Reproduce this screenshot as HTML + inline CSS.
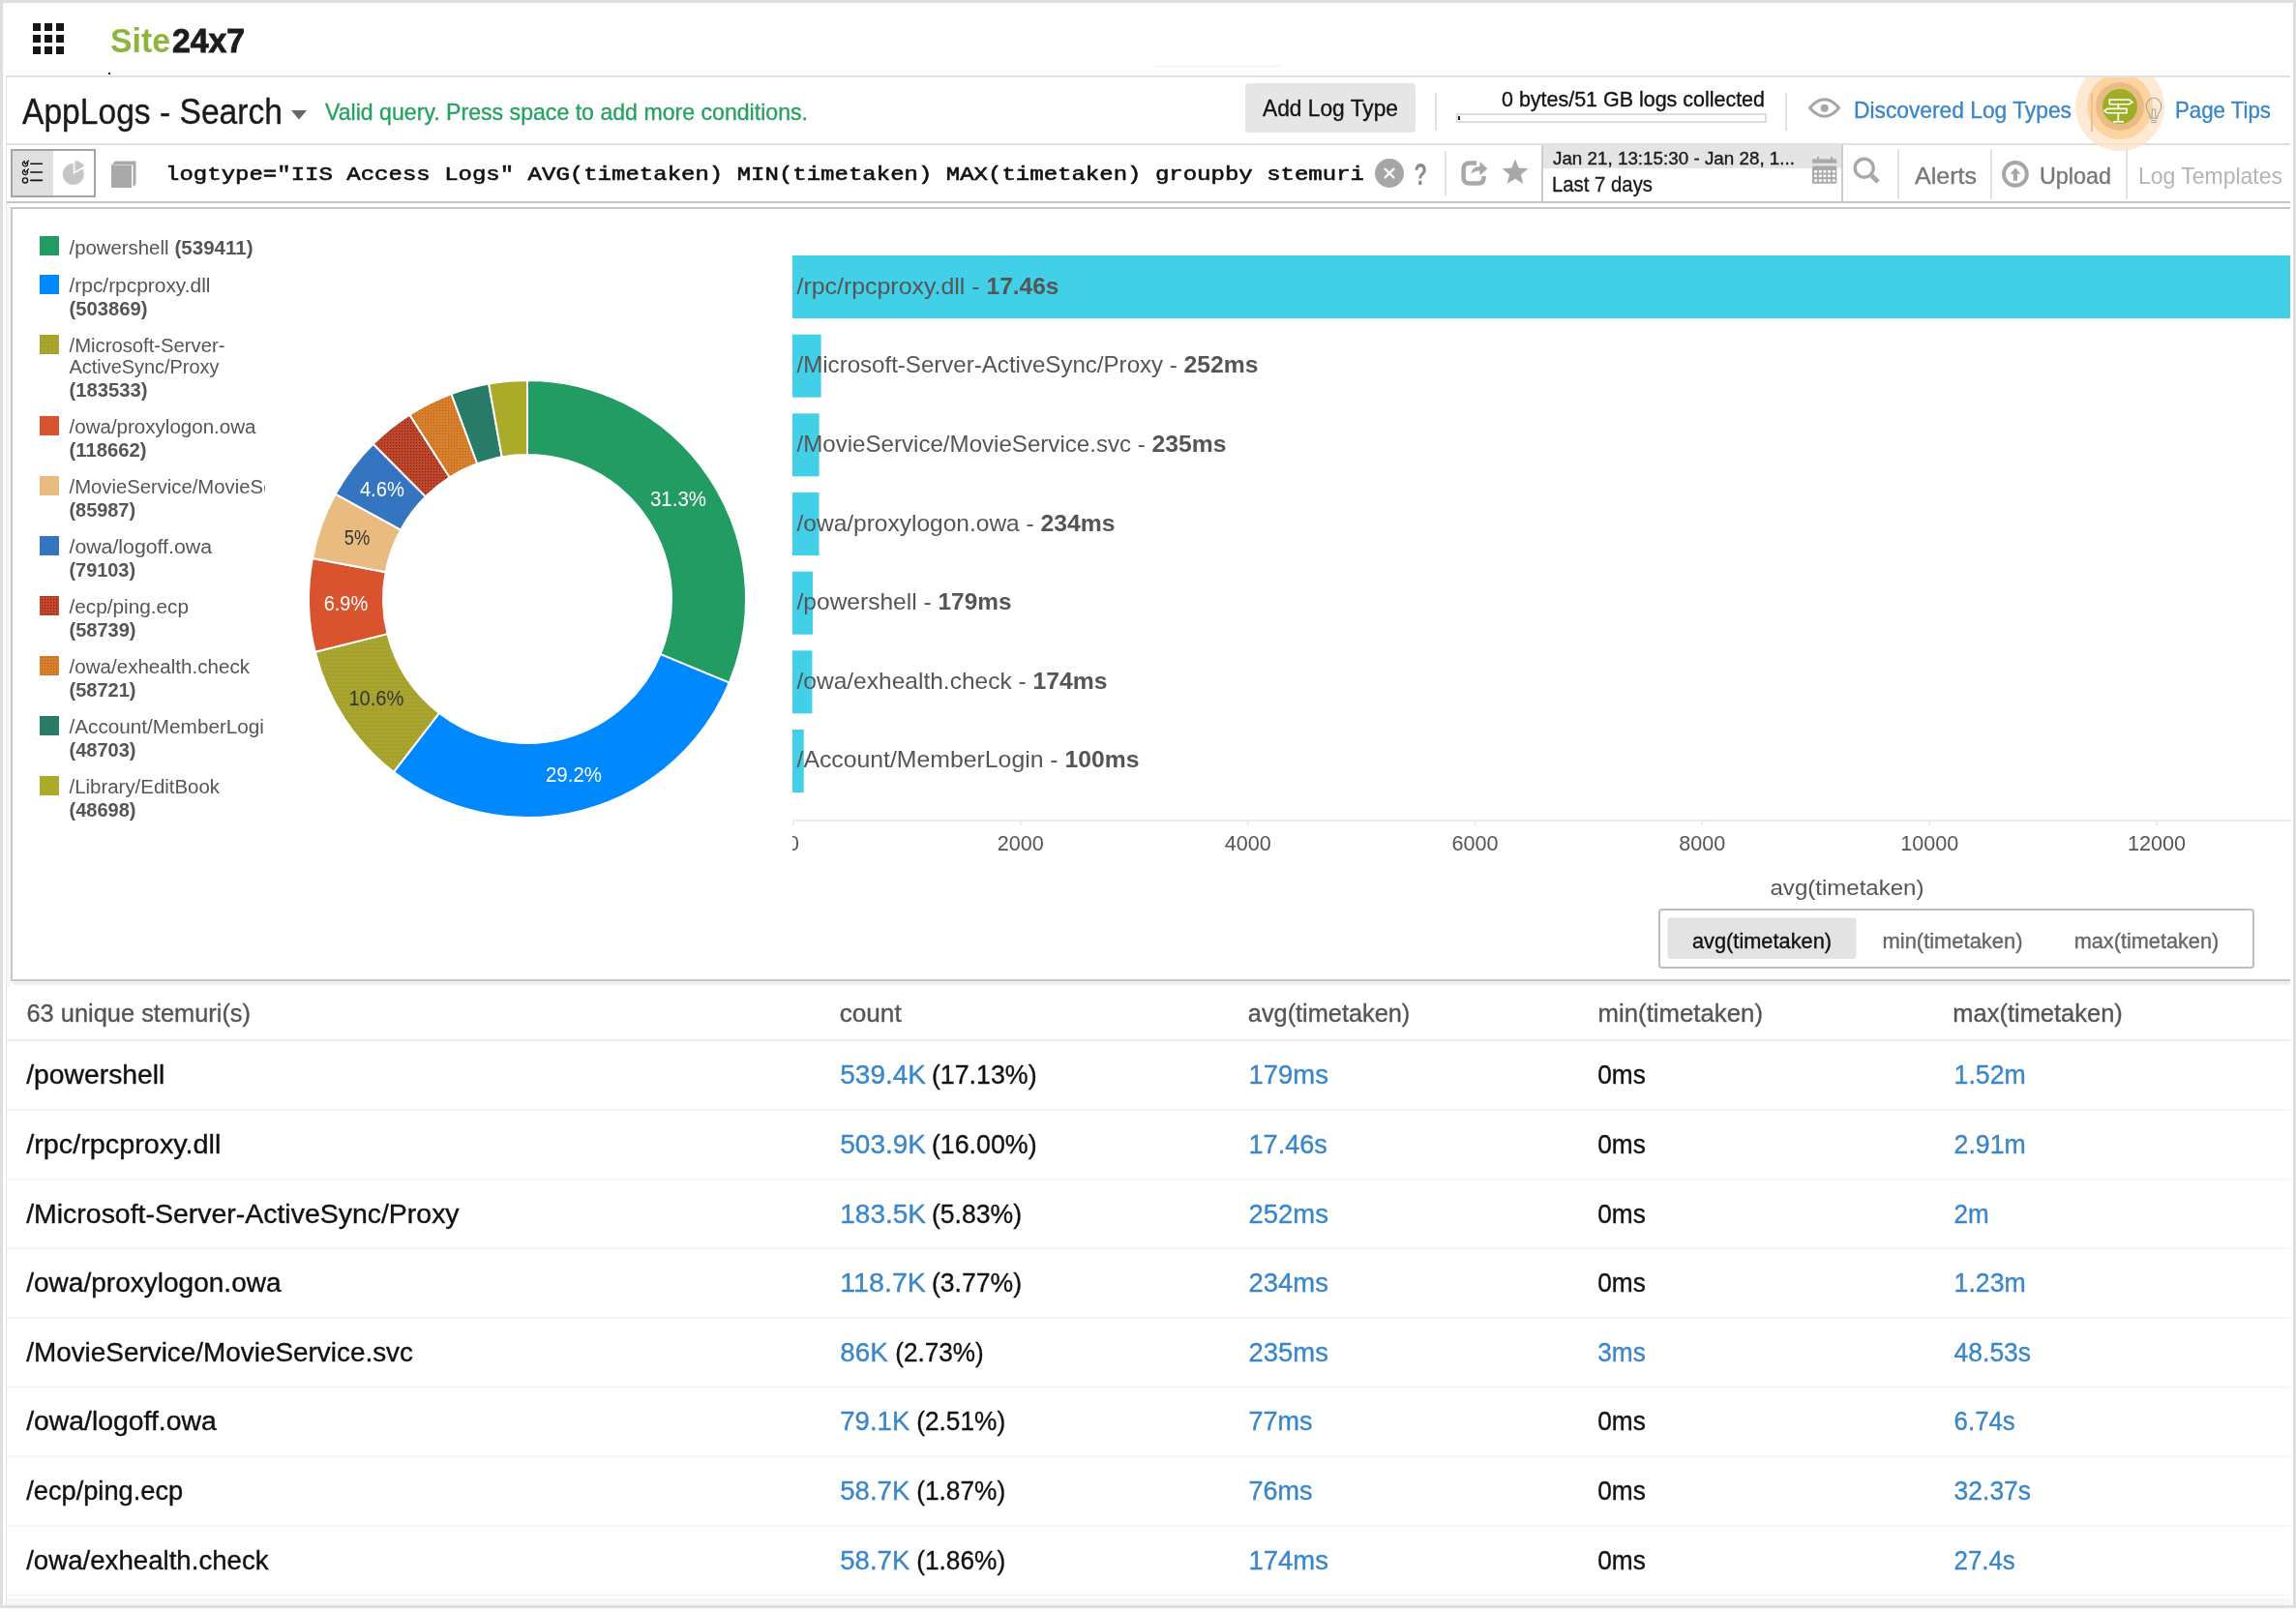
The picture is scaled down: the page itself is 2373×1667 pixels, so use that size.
<!DOCTYPE html>
<html lang="en">
<head>
<meta charset="utf-8">
<title>AppLogs - Search | Site24x7</title>
<style>
html,body{margin:0;padding:0;background:#fff;}
body{width:2373px;height:1667px;overflow:hidden;position:relative;}
svg{position:absolute;left:0;top:0;display:block;font-family:'Liberation Sans', Arial, sans-serif;white-space:pre;will-change:transform;}
</style>
</head>
<body>
<svg width="2373" height="1667" viewBox="0 0 2373 1667">
<rect x="0" y="0" width="2373" height="1667" fill="#ffffff" />
<rect x="0" y="0" width="2373" height="3" fill="#dfdfdf" />
<rect x="0" y="0" width="3" height="1662" fill="#dfdfdf" />
<rect x="2370" y="0" width="3" height="1662" fill="#dfdfdf" />
<rect x="0" y="1659" width="2373" height="3" fill="#dfdfdf" />
<rect x="3" y="1662" width="2370" height="5" fill="#fefefe" />
<rect x="34" y="24" width="8" height="8" fill="#161616" />
<rect x="34" y="36" width="8" height="8" fill="#161616" />
<rect x="34" y="48" width="8" height="8" fill="#161616" />
<rect x="46" y="24" width="8" height="8" fill="#161616" />
<rect x="46" y="36" width="8" height="8" fill="#161616" />
<rect x="46" y="48" width="8" height="8" fill="#161616" />
<rect x="58" y="24" width="8" height="8" fill="#161616" />
<rect x="58" y="36" width="8" height="8" fill="#161616" />
<rect x="58" y="48" width="8" height="8" fill="#161616" />
<text x="114" y="54" font-size="35" fill="#8db43b" font-weight="bold" textLength="62" lengthAdjust="spacingAndGlyphs">Site</text>
<text x="178" y="54" font-size="35" fill="#1c1c1c" font-weight="bold" textLength="75" lengthAdjust="spacingAndGlyphs" stroke="#1c1c1c" stroke-width="0.9">24x7</text>
<rect x="112" y="75" width="2" height="2" fill="#222" />
<line x1="1194" y1="68.5" x2="1323" y2="68.5" stroke="#f0f0f0" stroke-width="1" />
<rect x="6" y="78" width="2361" height="2" fill="#e0e0e0" />
<rect x="6" y="80" width="1" height="1579" fill="#e6e6e6" />
<text x="23" y="128" font-size="36" fill="#1a1a1a" textLength="269" lengthAdjust="spacingAndGlyphs" stroke="#1a1a1a" stroke-width="0.35">AppLogs - Search</text>
<polygon points="301,114 317,114 309,123.5" fill="#666"/>
<text x="336" y="123.7" font-size="24" fill="#26a25f" textLength="499" lengthAdjust="spacingAndGlyphs" stroke="#26a25f" stroke-width="0.35">Valid query. Press space to add more conditions.</text>
<rect x="1287" y="86" width="176" height="51" fill="#e6e6e6" rx="4" />
<text x="1305" y="120" font-size="24" fill="#141414" textLength="140" lengthAdjust="spacingAndGlyphs" stroke="#141414" stroke-width="0.35">Add Log Type</text>
<rect x="1483" y="96" width="2" height="39" fill="#e2e2e2" />
<text x="1552" y="110.4" font-size="22" fill="#141414" textLength="272" lengthAdjust="spacingAndGlyphs" stroke="#141414" stroke-width="0.35">0 bytes/51 GB logs collected</text>
<rect x="1506" y="118" width="319" height="8" fill="#ffffff" stroke="#dcdcdc" stroke-width="2"/>
<rect x="1507" y="120" width="2" height="4" fill="#222" />
<rect x="1845" y="96" width="2" height="39" fill="#e2e2e2" />
<path d="M1870.5,111.5 Q1885.6,94 1900.7,111.5 Q1885.6,129 1870.5,111.5 Z" fill="none" stroke="#a6a6a6" stroke-width="3" stroke-linejoin="round"/>
<circle cx="1885.7" cy="111.7" r="4" fill="#a6a6a6"/>
<text x="1916" y="121.5" font-size="24" fill="#3a86c8" textLength="225" lengthAdjust="spacingAndGlyphs" stroke="#3a86c8" stroke-width="0.35">Discovered Log Types</text>
<text x="2248" y="121.5" font-size="24" fill="#3a86c8" textLength="99" lengthAdjust="spacingAndGlyphs" stroke="#3a86c8" stroke-width="0.35">Page Tips</text>
<rect x="6" y="148" width="2361" height="2" fill="#e0e0e0" />
<rect x="7" y="208" width="2360" height="2" fill="#c6c6c6" />
<rect x="12" y="155" width="86" height="48" fill="#ffffff" stroke="#a4a4a4" stroke-width="2"/>
<rect x="13" y="156" width="42" height="46" fill="#e0e0e0" />
<path d="M28.25,168.0 A2.6,2.6 0 1,1 26,166.70000000000002" fill="none" stroke="#111" stroke-width="1.3"/>
<path d="M24.9,167.70000000000002 L26.3,169.4 L29.8,165.70000000000002" fill="none" stroke="#111" stroke-width="1.3"/>
<line x1="31.8" y1="169.3" x2="43.4" y2="169.3" stroke="#111" stroke-width="1.6" stroke-linecap="round"/>
<path d="M28.25,176.7 A2.6,2.6 0 1,1 26,175.4" fill="none" stroke="#111" stroke-width="1.3"/>
<path d="M24.9,176.4 L26.3,178.1 L29.8,174.4" fill="none" stroke="#111" stroke-width="1.3"/>
<line x1="31.8" y1="178" x2="43.4" y2="178" stroke="#111" stroke-width="1.6" stroke-linecap="round"/>
<circle cx="26" cy="186.4" r="2.6" fill="none" stroke="#111" stroke-width="1.3"/>
<line x1="31.8" y1="186.4" x2="43.4" y2="186.4" stroke="#111" stroke-width="1.6" stroke-linecap="round"/>
<path d="M75.8,180 L75.8,169 A11,11 0 1,0 85.3,174.5 Z" fill="#c6c6c6"/>
<path d="M77.4,177.3 L77.4,166.3 A11,11 0 0,1 86.9,171.8 Z" fill="#c6c6c6"/>
<path d="M115,171 L119,166.5 L140.5,166.5 L140.5,190.5 L137.5,193 L137.5,170.5 L119,170.5 Z" fill="#a9a9a9"/>
<rect x="115" y="171" width="21" height="23" fill="#a9a9a9" />
<text x="171" y="185.7" font-size="21" fill="#111" font-family="'Liberation Mono', 'Courier New', monospace" textLength="1239" lengthAdjust="spacingAndGlyphs" stroke="#111" stroke-width="0.6">logtype="IIS Access Logs" AVG(timetaken) MIN(timetaken) MAX(timetaken) groupby stemuri</text>
<circle cx="1436" cy="179" r="15" fill="#a6a6a6"/>
<path d="M1431,174 L1441,184 M1441,174 L1431,184" stroke="#fff" stroke-width="2.4"/>
<text x="1461.5" y="190.7" font-size="31" fill="#8a8a8a" font-weight="bold" textLength="13.5" lengthAdjust="spacingAndGlyphs">?</text>
<rect x="1493" y="156" width="2" height="46" fill="#e2e2e2" />
<path d="M1526,168.6 L1519,168.6 Q1512.6,168.6 1512.6,175 L1512.6,183.5 Q1512.6,189.6 1519,189.6 L1527.5,189.6 Q1533.6,189.6 1533.6,183 L1533.6,182" fill="none" stroke="#a8a8a8" stroke-width="4.5"/>
<path d="M1520.3,179.8 Q1522,172 1529.5,172 L1529.5,167 L1537.3,174.2 L1529.5,181.2 L1529.5,176.6 Q1523.5,176.6 1520.3,179.8 Z" fill="#a8a8a8"/>
<polygon points="1566.00,164.40 1569.64,173.58 1579.51,174.21 1571.90,180.52 1574.35,190.09 1566.00,184.80 1557.65,190.09 1560.10,180.52 1552.49,174.21 1562.36,173.58" fill="#a8a8a8"/>
<rect x="1593" y="150" width="2" height="58" fill="#cccccc" />
<rect x="1595" y="150" width="308" height="24" fill="#e4e4e4" />
<text x="1605" y="169.6" font-size="19" fill="#1a1a1a" textLength="250" lengthAdjust="spacingAndGlyphs" stroke="#1a1a1a" stroke-width="0.35">Jan 21, 13:15:30 - Jan 28, 1...</text>
<text x="1604" y="197.5" font-size="22" fill="#1a1a1a" textLength="104" lengthAdjust="spacingAndGlyphs" stroke="#1a1a1a" stroke-width="0.35">Last 7 days</text>
<rect x="1903" y="150" width="2" height="58" fill="#cccccc" />
<rect x="1873" y="164.4" width="25.3" height="4.3" fill="#a9a9a9" />
<rect x="1878" y="162" width="2" height="3" fill="#a9a9a9" />
<rect x="1892" y="162" width="2" height="3" fill="#a9a9a9" />
<rect x="1873" y="171.5" width="25.3" height="18.2" fill="#a9a9a9" rx="1.5" />
<rect x="1875" y="176" width="3" height="2.6" fill="#ffffff" />
<rect x="1875" y="180.5" width="3" height="2.6" fill="#ffffff" />
<rect x="1875" y="185.2" width="3" height="2.6" fill="#ffffff" />
<rect x="1879.8" y="176" width="3" height="2.6" fill="#ffffff" />
<rect x="1879.8" y="180.5" width="3" height="2.6" fill="#ffffff" />
<rect x="1879.8" y="185.2" width="3" height="2.6" fill="#ffffff" />
<rect x="1884.4" y="176" width="3" height="2.6" fill="#ffffff" />
<rect x="1884.4" y="180.5" width="3" height="2.6" fill="#ffffff" />
<rect x="1884.4" y="185.2" width="3" height="2.6" fill="#ffffff" />
<rect x="1889" y="176" width="3" height="2.6" fill="#ffffff" />
<rect x="1889" y="180.5" width="3" height="2.6" fill="#ffffff" />
<rect x="1889" y="185.2" width="3" height="2.6" fill="#ffffff" />
<rect x="1893.8" y="176" width="3" height="2.6" fill="#ffffff" />
<rect x="1893.8" y="180.5" width="3" height="2.6" fill="#ffffff" />
<rect x="1893.8" y="185.2" width="3" height="2.6" fill="#ffffff" />
<circle cx="1926.7" cy="173.7" r="9.5" fill="none" stroke="#a9a9a9" stroke-width="3.4"/>
<line x1="1934.5" y1="181.5" x2="1941" y2="188" stroke="#a9a9a9" stroke-width="5" />
<rect x="1961" y="154" width="2" height="52" fill="#e2e2e2" />
<text x="1979" y="189.5" font-size="24" fill="#777777" textLength="64" lengthAdjust="spacingAndGlyphs" stroke="#777777" stroke-width="0.35">Alerts</text>
<rect x="2057" y="154" width="2" height="52" fill="#e2e2e2" />
<circle cx="2082.9" cy="179.9" r="11.9" fill="none" stroke="#a6a6a6" stroke-width="3.9"/>
<path d="M2083,173.5 L2088.3,179.7 L2085,179.7 L2085,186.8 L2080.8,186.8 L2080.8,179.7 L2077.6,179.7 Z" fill="#a6a6a6"/>
<text x="2108" y="189.5" font-size="24" fill="#777777" textLength="74" lengthAdjust="spacingAndGlyphs" stroke="#777777" stroke-width="0.35">Upload</text>
<rect x="2197" y="154" width="2" height="52" fill="#e2e2e2" />
<text x="2210" y="189.5" font-size="24" fill="#b4b4b4" textLength="149" lengthAdjust="spacingAndGlyphs">Log Templates</text>
<defs><clipPath id="glowclip"><rect x="2100" y="80" width="200" height="120"/></clipPath></defs>
<g clip-path="url(#glowclip)"><circle cx="2191" cy="110" r="46" fill="#fde2c4" fill-opacity="0.75"/><circle cx="2191" cy="110" r="34" fill="#fdd3a0"/><circle cx="2191" cy="110" r="25" fill="#e8bc82"/><circle cx="2191" cy="110" r="18" fill="#9cae24"/></g>
<rect x="2161" y="96" width="2" height="40" fill="#e6c29c" />
<path d="M2180.3,103 L2200.5,103 L2204,105.4 L2200.5,107.8 L2180.3,107.8 Z" fill="none" stroke="#fff" stroke-width="1.6"/>
<path d="M2198,112.4 L2178,112.4 L2175,114.6 L2178,116.8 L2198,116.8 Z" fill="none" stroke="#fff" stroke-width="1.6"/>
<line x1="2189.3" y1="108.5" x2="2189.3" y2="111.6" stroke="#fff" stroke-width="1.8" />
<line x1="2189.3" y1="117.5" x2="2189.3" y2="125.5" stroke="#fff" stroke-width="1.8" />
<line x1="2184" y1="125.8" x2="2195" y2="125.8" stroke="#fff" stroke-width="1.6" />
<path d="M2223,126.5 L2229,126.5 M2223,124.5 L2229,124.5 M2222.5,122.3 Q2222,118 2219.5,114.5 Q2217.2,110.5 2219,106 Q2221.5,101.2 2226,101.2 Q2230.5,101.2 2233,106 Q2234.8,110.5 2232.5,114.5 Q2230,118 2229.5,122.3 Z M2224,122 L2224.5,113 L2227.5,113 L2228,122" fill="none" stroke="#8f949a" stroke-width="1.1" stroke-opacity="0.8"/>
<rect x="7" y="210" width="4" height="810" fill="#f6f8f8" />
<rect x="11" y="214" width="2356" height="2" fill="#c6c6c6" />
<rect x="11" y="214" width="2" height="800" fill="#c6c6c6" />
<rect x="11" y="1012" width="2356" height="2" fill="#c6c6c6" />
<rect x="13" y="1014" width="2354" height="4" fill="#efefef" />
<defs><pattern id="pdots" width="4" height="4" patternUnits="userSpaceOnUse"><rect width="4" height="4" fill="#a8a52b"/><rect x="1" y="1" width="1" height="1" fill="#7f8a5a"/></pattern><pattern id="phatch" width="3" height="3" patternUnits="userSpaceOnUse"><rect width="3" height="3" fill="#c9472b"/><rect x="1" y="1" width="1.2" height="1.2" fill="#6b2a1c"/></pattern><pattern id="phatch2" width="3" height="3" patternUnits="userSpaceOnUse"><rect width="3" height="3" fill="#d8812d"/><rect x="1" y="1" width="1" height="1" fill="#b05a28"/></pattern><clipPath id="legclip"><rect x="30" y="220" width="243.8" height="700"/></clipPath></defs>
<g clip-path="url(#legclip)">
<rect x="41" y="244" width="20" height="20" fill="#229c63" />
<text x="71.5" y="263" font-size="20" fill="#555555" textLength="103" lengthAdjust="spacingAndGlyphs">/powershell</text>
<text x="180.5" y="263" font-size="20" fill="#555555" font-weight="bold" textLength="81" lengthAdjust="spacingAndGlyphs">(539411)</text>
<rect x="41" y="284" width="20" height="20" fill="#0088ff" />
<text x="71.5" y="301.6" font-size="20" fill="#555555" textLength="146" lengthAdjust="spacingAndGlyphs">/rpc/rpcproxy.dll</text>
<text x="71.5" y="325.5" font-size="20" fill="#555555" font-weight="bold" textLength="81" lengthAdjust="spacingAndGlyphs">(503869)</text>
<rect x="41" y="346" width="20" height="20" fill="url(#pdots)" />
<text x="71.5" y="363.6" font-size="20" fill="#555555" textLength="161" lengthAdjust="spacingAndGlyphs">/Microsoft-Server-</text>
<text x="71.5" y="385.6" font-size="20" fill="#555555" textLength="155" lengthAdjust="spacingAndGlyphs">ActiveSync/Proxy</text>
<text x="71.5" y="409.5" font-size="20" fill="#555555" font-weight="bold" textLength="81" lengthAdjust="spacingAndGlyphs">(183533)</text>
<rect x="41" y="430" width="20" height="20" fill="#d9532f" />
<text x="71.5" y="447.6" font-size="20" fill="#555555" textLength="193" lengthAdjust="spacingAndGlyphs">/owa/proxylogon.owa</text>
<text x="71.5" y="471.5" font-size="20" fill="#555555" font-weight="bold" textLength="80" lengthAdjust="spacingAndGlyphs">(118662)</text>
<rect x="41" y="492" width="20" height="20" fill="#eabb80" />
<text x="71.5" y="509.6" font-size="20" fill="#555555" textLength="290.5" lengthAdjust="spacingAndGlyphs">/MovieService/MovieService.svc</text>
<text x="71.5" y="533.5" font-size="20" fill="#555555" font-weight="bold" textLength="68.5" lengthAdjust="spacingAndGlyphs">(85987)</text>
<rect x="41" y="554" width="20" height="20" fill="#3574c0" />
<text x="71.5" y="571.6" font-size="20" fill="#555555" textLength="147.5" lengthAdjust="spacingAndGlyphs">/owa/logoff.owa</text>
<text x="71.5" y="595.5" font-size="20" fill="#555555" font-weight="bold" textLength="68.5" lengthAdjust="spacingAndGlyphs">(79103)</text>
<rect x="41" y="616" width="20" height="20" fill="url(#phatch)" />
<text x="71.5" y="633.6" font-size="20" fill="#555555" textLength="123.5" lengthAdjust="spacingAndGlyphs">/ecp/ping.ecp</text>
<text x="71.5" y="657.5" font-size="20" fill="#555555" font-weight="bold" textLength="69" lengthAdjust="spacingAndGlyphs">(58739)</text>
<rect x="41" y="678" width="20" height="20" fill="url(#phatch2)" />
<text x="71.5" y="695.6" font-size="20" fill="#555555" textLength="186.5" lengthAdjust="spacingAndGlyphs">/owa/exhealth.check</text>
<text x="71.5" y="719.5" font-size="20" fill="#555555" font-weight="bold" textLength="69" lengthAdjust="spacingAndGlyphs">(58721)</text>
<rect x="41" y="740" width="20" height="20" fill="#287b67" />
<text x="71.5" y="757.6" font-size="20" fill="#555555" textLength="213" lengthAdjust="spacingAndGlyphs">/Account/MemberLogin</text>
<text x="71.5" y="781.5" font-size="20" fill="#555555" font-weight="bold" textLength="69" lengthAdjust="spacingAndGlyphs">(48703)</text>
<rect x="41" y="802" width="20" height="20" fill="#aaab28" />
<text x="71.5" y="819.6" font-size="20" fill="#555555" textLength="155.5" lengthAdjust="spacingAndGlyphs">/Library/EditBook</text>
<text x="71.5" y="843.5" font-size="20" fill="#555555" font-weight="bold" textLength="69" lengthAdjust="spacingAndGlyphs">(48698)</text>
</g>
<defs><pattern id="pdots2" width="4" height="4" patternUnits="userSpaceOnUse"><rect width="4" height="4" fill="#a9a52c"/><rect x="1" y="1" width="1" height="1" fill="#8a8c55"/></pattern><pattern id="phatch3" width="3" height="3" patternUnits="userSpaceOnUse"><rect width="3" height="3" fill="#c4462b"/><rect x="1" y="1" width="1.2" height="1.2" fill="#6b2a1c"/></pattern><pattern id="phatch4" width="3" height="3" patternUnits="userSpaceOnUse"><rect width="3" height="3" fill="#d9802d"/><rect x="1" y="1" width="1" height="1" fill="#b45c28"/></pattern></defs>
<path d="M545.00,393.00 A226,226 0 0,1 753.73,705.65 L682.61,676.13 A149,149 0 0,0 545.00,470.00 Z" fill="#229c63" stroke="#ffffff" stroke-width="2" stroke-linejoin="round"/>
<path d="M753.73,705.65 A226,226 0 0,1 406.88,797.88 L453.94,736.93 A149,149 0 0,0 682.61,676.13 Z" fill="#0088ff" stroke="#ffffff" stroke-width="2" stroke-linejoin="round"/>
<path d="M406.88,797.88 A226,226 0 0,1 325.74,673.80 L400.45,655.13 A149,149 0 0,0 453.94,736.93 Z" fill="url(#pdots2)" stroke="#ffffff" stroke-width="2" stroke-linejoin="round"/>
<path d="M325.74,673.80 A226,226 0 0,1 322.95,576.94 L398.60,591.27 A149,149 0 0,0 400.45,655.13 Z" fill="#d9532f" stroke="#ffffff" stroke-width="2" stroke-linejoin="round"/>
<path d="M322.95,576.94 A226,226 0 0,1 346.70,510.59 L414.26,547.52 A149,149 0 0,0 398.60,591.27 Z" fill="#eabb80" stroke="#ffffff" stroke-width="2" stroke-linejoin="round"/>
<path d="M346.70,510.59 A226,226 0 0,1 385.67,458.72 L439.96,513.33 A149,149 0 0,0 414.26,547.52 Z" fill="#3574c0" stroke="#ffffff" stroke-width="2" stroke-linejoin="round"/>
<path d="M385.67,458.72 A226,226 0 0,1 423.32,428.55 L464.78,493.44 A149,149 0 0,0 439.96,513.33 Z" fill="url(#phatch3)" stroke="#ffffff" stroke-width="2" stroke-linejoin="round"/>
<path d="M423.32,428.55 A226,226 0 0,1 466.51,407.07 L493.25,479.27 A149,149 0 0,0 464.78,493.44 Z" fill="url(#phatch4)" stroke="#ffffff" stroke-width="2" stroke-linejoin="round"/>
<path d="M466.51,407.07 A226,226 0 0,1 505.13,396.54 L518.72,472.34 A149,149 0 0,0 493.25,479.27 Z" fill="#287b67" stroke="#ffffff" stroke-width="2" stroke-linejoin="round"/>
<path d="M505.13,396.54 A226,226 0 0,1 545.00,393.00 L545.00,470.00 A149,149 0 0,0 518.72,472.34 Z" fill="#aaab28" stroke="#ffffff" stroke-width="2" stroke-linejoin="round"/>
<text x="672" y="522.6" font-size="22" fill="#ffffff" textLength="58" lengthAdjust="spacingAndGlyphs">31.3%</text>
<text x="564" y="807.8" font-size="22" fill="#ffffff" textLength="58" lengthAdjust="spacingAndGlyphs">29.2%</text>
<text x="360.4" y="728.7" font-size="22" fill="#333333" textLength="57" lengthAdjust="spacingAndGlyphs">10.6%</text>
<text x="334.7" y="631" font-size="22" fill="#ffffff" textLength="45.5" lengthAdjust="spacingAndGlyphs">6.9%</text>
<text x="355.8" y="562.9" font-size="22" fill="#333333" textLength="26.5" lengthAdjust="spacingAndGlyphs">5%</text>
<text x="371.9" y="513.3" font-size="22" fill="#ffffff" textLength="46" lengthAdjust="spacingAndGlyphs">4.6%</text>
<defs><clipPath id="plotclip"><rect x="819" y="220" width="1548" height="620"/></clipPath></defs>
<rect x="819" y="264.0" width="1548" height="65" fill="#42cfe8" />
<text x="823.5" y="303.8" font-size="24" fill="#555555" textLength="196" lengthAdjust="spacingAndGlyphs">/rpc/rpcproxy.dll - </text>
<text x="1019.5" y="303.8" font-size="24" fill="#555555" font-weight="bold" textLength="75" lengthAdjust="spacingAndGlyphs">17.46s</text>
<rect x="819" y="345.67" width="29.59" height="65" fill="#42cfe8" />
<text x="823.5" y="385.4" font-size="24" fill="#555555" textLength="400" lengthAdjust="spacingAndGlyphs">/Microsoft-Server-ActiveSync/Proxy - </text>
<text x="1223.5" y="385.4" font-size="24" fill="#555555" font-weight="bold" textLength="77" lengthAdjust="spacingAndGlyphs">252ms</text>
<rect x="819" y="427.34" width="27.59" height="65" fill="#42cfe8" />
<text x="823.5" y="467.0" font-size="24" fill="#555555" textLength="367" lengthAdjust="spacingAndGlyphs">/MovieService/MovieService.svc - </text>
<text x="1190.5" y="467.0" font-size="24" fill="#555555" font-weight="bold" textLength="77" lengthAdjust="spacingAndGlyphs">235ms</text>
<rect x="819" y="509.01" width="27.48" height="65" fill="#42cfe8" />
<text x="823.5" y="548.6" font-size="24" fill="#555555" textLength="252" lengthAdjust="spacingAndGlyphs">/owa/proxylogon.owa - </text>
<text x="1075.5" y="548.6" font-size="24" fill="#555555" font-weight="bold" textLength="77" lengthAdjust="spacingAndGlyphs">234ms</text>
<rect x="819" y="590.68" width="21.02" height="65" fill="#42cfe8" />
<text x="823.5" y="630.2" font-size="24" fill="#555555" textLength="146" lengthAdjust="spacingAndGlyphs">/powershell - </text>
<text x="969.5" y="630.2" font-size="24" fill="#555555" font-weight="bold" textLength="76" lengthAdjust="spacingAndGlyphs">179ms</text>
<rect x="819" y="672.35" width="20.43" height="65" fill="#42cfe8" />
<text x="823.5" y="711.8" font-size="24" fill="#555555" textLength="244" lengthAdjust="spacingAndGlyphs">/owa/exhealth.check - </text>
<text x="1067.5" y="711.8" font-size="24" fill="#555555" font-weight="bold" textLength="77" lengthAdjust="spacingAndGlyphs">174ms</text>
<rect x="819" y="754.02" width="11.74" height="65" fill="#42cfe8" />
<text x="823.5" y="793.4" font-size="24" fill="#555555" textLength="277" lengthAdjust="spacingAndGlyphs">/Account/MemberLogin - </text>
<text x="1100.5" y="793.4" font-size="24" fill="#555555" font-weight="bold" textLength="77" lengthAdjust="spacingAndGlyphs">100ms</text>
<rect x="819" y="847" width="1548" height="2" fill="#ebebeb" />
<defs><clipPath id="plotclip2"><rect x="819" y="850" width="40" height="40"/></clipPath></defs>
<rect x="819.0" y="849" width="2" height="4" fill="#ebebeb" />
<g clip-path="url(#plotclip2)">
<text x="820.0" y="878.8" font-size="21.5" fill="#555555" text-anchor="middle">0</text>
</g>
<rect x="1053.84" y="849" width="2" height="4" fill="#ebebeb" />
<text x="1030.84" y="878.8" font-size="21.5" fill="#555555" textLength="48" lengthAdjust="spacingAndGlyphs">2000</text>
<rect x="1288.68" y="849" width="2" height="4" fill="#ebebeb" />
<text x="1265.68" y="878.8" font-size="21.5" fill="#555555" textLength="48" lengthAdjust="spacingAndGlyphs">4000</text>
<rect x="1523.52" y="849" width="2" height="4" fill="#ebebeb" />
<text x="1500.52" y="878.8" font-size="21.5" fill="#555555" textLength="48" lengthAdjust="spacingAndGlyphs">6000</text>
<rect x="1758.36" y="849" width="2" height="4" fill="#ebebeb" />
<text x="1735.36" y="878.8" font-size="21.5" fill="#555555" textLength="48" lengthAdjust="spacingAndGlyphs">8000</text>
<rect x="1993.2" y="849" width="2" height="4" fill="#ebebeb" />
<text x="1964.2" y="878.8" font-size="21.5" fill="#555555" textLength="60" lengthAdjust="spacingAndGlyphs">10000</text>
<rect x="2228.04" y="849" width="2" height="4" fill="#ebebeb" />
<text x="2199.04" y="878.8" font-size="21.5" fill="#555555" textLength="60" lengthAdjust="spacingAndGlyphs">12000</text>
<text x="1829.5" y="925.4" font-size="22" fill="#555555" textLength="159" lengthAdjust="spacingAndGlyphs">avg(timetaken)</text>
<rect x="1715" y="940" width="614" height="60" fill="#ffffff" rx="3" stroke="#bdbdbd" stroke-width="2"/>
<rect x="1723.5" y="948.5" width="195" height="42.5" fill="#e3e3e3" rx="3" />
<text x="1749" y="979.6" font-size="22" fill="#111111" textLength="144" lengthAdjust="spacingAndGlyphs" stroke="#111111" stroke-width="0.35">avg(timetaken)</text>
<text x="1945.5" y="979.6" font-size="22" fill="#666666" textLength="145" lengthAdjust="spacingAndGlyphs" stroke="#666666" stroke-width="0.35">min(timetaken)</text>
<text x="2143.7" y="979.6" font-size="22" fill="#666666" textLength="149.5" lengthAdjust="spacingAndGlyphs" stroke="#666666" stroke-width="0.35">max(timetaken)</text>
<text x="27.5" y="1056" font-size="26" fill="#555555" textLength="231.5" lengthAdjust="spacingAndGlyphs" stroke="#555555" stroke-width="0.35">63 unique stemuri(s)</text>
<text x="867.7" y="1056" font-size="26" fill="#555555" textLength="64" lengthAdjust="spacingAndGlyphs" stroke="#555555" stroke-width="0.35">count</text>
<text x="1289.8" y="1056" font-size="26" fill="#555555" textLength="167.5" lengthAdjust="spacingAndGlyphs" stroke="#555555" stroke-width="0.35">avg(timetaken)</text>
<text x="1651.5" y="1056" font-size="26" fill="#555555" textLength="170.5" lengthAdjust="spacingAndGlyphs" stroke="#555555" stroke-width="0.35">min(timetaken)</text>
<text x="2018.3" y="1056" font-size="26" fill="#555555" textLength="175.5" lengthAdjust="spacingAndGlyphs" stroke="#555555" stroke-width="0.35">max(timetaken)</text>
<rect x="7" y="1074" width="2360" height="2" fill="#ededed" />
<text x="27.2" y="1120.2" font-size="27" fill="#111111" textLength="143.2" lengthAdjust="spacingAndGlyphs" stroke="#111111" stroke-width="0.35">/powershell</text>
<text x="868.3" y="1120.2" font-size="27" fill="#3a86c8" textLength="88.6" lengthAdjust="spacingAndGlyphs" stroke="#3a86c8" stroke-width="0.35">539.4K</text>
<text x="962.9" y="1120.2" font-size="27" fill="#111111" textLength="108.7" lengthAdjust="spacingAndGlyphs" stroke="#111111" stroke-width="0.35">(17.13%)</text>
<text x="1290.5" y="1120.2" font-size="27" fill="#3a86c8" textLength="82.4" lengthAdjust="spacingAndGlyphs" stroke="#3a86c8" stroke-width="0.35">179ms</text>
<text x="1651.2" y="1120.2" font-size="27" fill="#111111" textLength="49.6" lengthAdjust="spacingAndGlyphs" stroke="#111111" stroke-width="0.35">0ms</text>
<text x="2019.6" y="1120.2" font-size="27" fill="#3a86c8" textLength="74.2" lengthAdjust="spacingAndGlyphs" stroke="#3a86c8" stroke-width="0.35">1.52m</text>
<rect x="7" y="1146.0" width="2360" height="2" fill="#f4f6f5" />
<text x="27.2" y="1191.85" font-size="27" fill="#111111" textLength="201.2" lengthAdjust="spacingAndGlyphs" stroke="#111111" stroke-width="0.35">/rpc/rpcproxy.dll</text>
<text x="868.3" y="1191.85" font-size="27" fill="#3a86c8" textLength="88.6" lengthAdjust="spacingAndGlyphs" stroke="#3a86c8" stroke-width="0.35">503.9K</text>
<text x="962.9" y="1191.85" font-size="27" fill="#111111" textLength="108.7" lengthAdjust="spacingAndGlyphs" stroke="#111111" stroke-width="0.35">(16.00%)</text>
<text x="1290.5" y="1191.85" font-size="27" fill="#3a86c8" textLength="81.4" lengthAdjust="spacingAndGlyphs" stroke="#3a86c8" stroke-width="0.35">17.46s</text>
<text x="1651.2" y="1191.85" font-size="27" fill="#111111" textLength="49.6" lengthAdjust="spacingAndGlyphs" stroke="#111111" stroke-width="0.35">0ms</text>
<text x="2019.6" y="1191.85" font-size="27" fill="#3a86c8" textLength="74.2" lengthAdjust="spacingAndGlyphs" stroke="#3a86c8" stroke-width="0.35">2.91m</text>
<rect x="7" y="1217.65" width="2360" height="2" fill="#f4f6f5" />
<text x="27.2" y="1263.5" font-size="27" fill="#111111" textLength="447.4" lengthAdjust="spacingAndGlyphs" stroke="#111111" stroke-width="0.35">/Microsoft-Server-ActiveSync/Proxy</text>
<text x="868.3" y="1263.5" font-size="27" fill="#3a86c8" textLength="88.6" lengthAdjust="spacingAndGlyphs" stroke="#3a86c8" stroke-width="0.35">183.5K</text>
<text x="962.9" y="1263.5" font-size="27" fill="#111111" textLength="93.1" lengthAdjust="spacingAndGlyphs" stroke="#111111" stroke-width="0.35">(5.83%)</text>
<text x="1290.5" y="1263.5" font-size="27" fill="#3a86c8" textLength="82.4" lengthAdjust="spacingAndGlyphs" stroke="#3a86c8" stroke-width="0.35">252ms</text>
<text x="1651.2" y="1263.5" font-size="27" fill="#111111" textLength="49.6" lengthAdjust="spacingAndGlyphs" stroke="#111111" stroke-width="0.35">0ms</text>
<text x="2019.6" y="1263.5" font-size="27" fill="#3a86c8" textLength="36.2" lengthAdjust="spacingAndGlyphs" stroke="#3a86c8" stroke-width="0.35">2m</text>
<rect x="7" y="1289.3" width="2360" height="2" fill="#f4f6f5" />
<text x="27.2" y="1335.15" font-size="27" fill="#111111" textLength="263.4" lengthAdjust="spacingAndGlyphs" stroke="#111111" stroke-width="0.35">/owa/proxylogon.owa</text>
<text x="868.3" y="1335.15" font-size="27" fill="#3a86c8" textLength="88.6" lengthAdjust="spacingAndGlyphs" stroke="#3a86c8" stroke-width="0.35">118.7K</text>
<text x="962.9" y="1335.15" font-size="27" fill="#111111" textLength="93.1" lengthAdjust="spacingAndGlyphs" stroke="#111111" stroke-width="0.35">(3.77%)</text>
<text x="1290.5" y="1335.15" font-size="27" fill="#3a86c8" textLength="82.4" lengthAdjust="spacingAndGlyphs" stroke="#3a86c8" stroke-width="0.35">234ms</text>
<text x="1651.2" y="1335.15" font-size="27" fill="#111111" textLength="49.6" lengthAdjust="spacingAndGlyphs" stroke="#111111" stroke-width="0.35">0ms</text>
<text x="2019.6" y="1335.15" font-size="27" fill="#3a86c8" textLength="74.2" lengthAdjust="spacingAndGlyphs" stroke="#3a86c8" stroke-width="0.35">1.23m</text>
<rect x="7" y="1360.95" width="2360" height="2" fill="#f4f6f5" />
<text x="27.2" y="1406.8" font-size="27" fill="#111111" textLength="399.8" lengthAdjust="spacingAndGlyphs" stroke="#111111" stroke-width="0.35">/MovieService/MovieService.svc</text>
<text x="868.3" y="1406.8" font-size="27" fill="#3a86c8" textLength="49.4" lengthAdjust="spacingAndGlyphs" stroke="#3a86c8" stroke-width="0.35">86K</text>
<text x="925.2" y="1406.8" font-size="27" fill="#111111" textLength="91.5" lengthAdjust="spacingAndGlyphs" stroke="#111111" stroke-width="0.35">(2.73%)</text>
<text x="1290.5" y="1406.8" font-size="27" fill="#3a86c8" textLength="82.4" lengthAdjust="spacingAndGlyphs" stroke="#3a86c8" stroke-width="0.35">235ms</text>
<text x="1651.2" y="1406.8" font-size="27" fill="#3a86c8" textLength="49.6" lengthAdjust="spacingAndGlyphs" stroke="#3a86c8" stroke-width="0.35">3ms</text>
<text x="2019.6" y="1406.8" font-size="27" fill="#3a86c8" textLength="79.5" lengthAdjust="spacingAndGlyphs" stroke="#3a86c8" stroke-width="0.35">48.53s</text>
<rect x="7" y="1432.6" width="2360" height="2" fill="#f4f6f5" />
<text x="27.2" y="1478.45" font-size="27" fill="#111111" textLength="196.5" lengthAdjust="spacingAndGlyphs" stroke="#111111" stroke-width="0.35">/owa/logoff.owa</text>
<text x="868.3" y="1478.45" font-size="27" fill="#3a86c8" textLength="72" lengthAdjust="spacingAndGlyphs" stroke="#3a86c8" stroke-width="0.35">79.1K</text>
<text x="947.2" y="1478.45" font-size="27" fill="#111111" textLength="92" lengthAdjust="spacingAndGlyphs" stroke="#111111" stroke-width="0.35">(2.51%)</text>
<text x="1290.5" y="1478.45" font-size="27" fill="#3a86c8" textLength="66" lengthAdjust="spacingAndGlyphs" stroke="#3a86c8" stroke-width="0.35">77ms</text>
<text x="1651.2" y="1478.45" font-size="27" fill="#111111" textLength="49.6" lengthAdjust="spacingAndGlyphs" stroke="#111111" stroke-width="0.35">0ms</text>
<text x="2019.6" y="1478.45" font-size="27" fill="#3a86c8" textLength="63.2" lengthAdjust="spacingAndGlyphs" stroke="#3a86c8" stroke-width="0.35">6.74s</text>
<rect x="7" y="1504.25" width="2360" height="2" fill="#f4f6f5" />
<text x="27.2" y="1550.1" font-size="27" fill="#111111" textLength="162" lengthAdjust="spacingAndGlyphs" stroke="#111111" stroke-width="0.35">/ecp/ping.ecp</text>
<text x="868.3" y="1550.1" font-size="27" fill="#3a86c8" textLength="72" lengthAdjust="spacingAndGlyphs" stroke="#3a86c8" stroke-width="0.35">58.7K</text>
<text x="947.2" y="1550.1" font-size="27" fill="#111111" textLength="92" lengthAdjust="spacingAndGlyphs" stroke="#111111" stroke-width="0.35">(1.87%)</text>
<text x="1290.5" y="1550.1" font-size="27" fill="#3a86c8" textLength="66" lengthAdjust="spacingAndGlyphs" stroke="#3a86c8" stroke-width="0.35">76ms</text>
<text x="1651.2" y="1550.1" font-size="27" fill="#111111" textLength="49.6" lengthAdjust="spacingAndGlyphs" stroke="#111111" stroke-width="0.35">0ms</text>
<text x="2019.6" y="1550.1" font-size="27" fill="#3a86c8" textLength="79.5" lengthAdjust="spacingAndGlyphs" stroke="#3a86c8" stroke-width="0.35">32.37s</text>
<rect x="7" y="1575.9" width="2360" height="2" fill="#f4f6f5" />
<text x="27.2" y="1621.75" font-size="27" fill="#111111" textLength="250.4" lengthAdjust="spacingAndGlyphs" stroke="#111111" stroke-width="0.35">/owa/exhealth.check</text>
<text x="868.3" y="1621.75" font-size="27" fill="#3a86c8" textLength="72" lengthAdjust="spacingAndGlyphs" stroke="#3a86c8" stroke-width="0.35">58.7K</text>
<text x="947.2" y="1621.75" font-size="27" fill="#111111" textLength="92" lengthAdjust="spacingAndGlyphs" stroke="#111111" stroke-width="0.35">(1.86%)</text>
<text x="1290.5" y="1621.75" font-size="27" fill="#3a86c8" textLength="82.4" lengthAdjust="spacingAndGlyphs" stroke="#3a86c8" stroke-width="0.35">174ms</text>
<text x="1651.2" y="1621.75" font-size="27" fill="#111111" textLength="49.6" lengthAdjust="spacingAndGlyphs" stroke="#111111" stroke-width="0.35">0ms</text>
<text x="2019.6" y="1621.75" font-size="27" fill="#3a86c8" textLength="63.2" lengthAdjust="spacingAndGlyphs" stroke="#3a86c8" stroke-width="0.35">27.4s</text>
<rect x="7" y="1647.55" width="2360" height="2" fill="#f4f6f5" />
<rect x="7" y="1652" width="2360" height="7" fill="#f5f6f6" />
</svg>
</body>
</html>
